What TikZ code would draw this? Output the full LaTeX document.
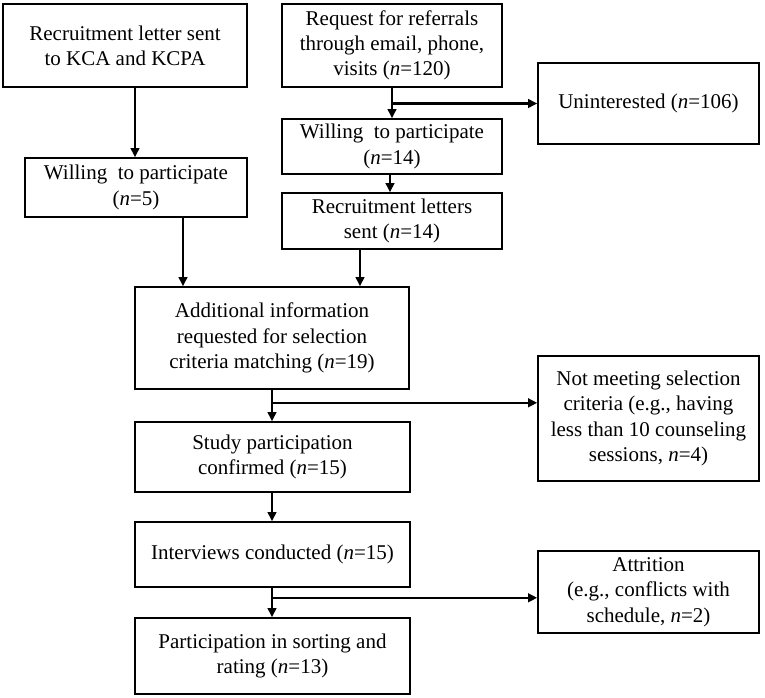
\documentclass[tikz,border=0pt]{standalone}
\usepackage{fontspec}
\setmainfont{Liberation Serif}
\usetikzlibrary{arrows.meta,calc}
\begin{document}
\begin{tikzpicture}[x=1pt,y=-1pt,
  box/.style={draw=black,line width=1.6pt,inner sep=0pt,align=center,
    font=\fontsize{21}{25.3}\selectfont},
  arr/.style={draw=black,line width=2.2pt,-{Triangle[length=9pt,width=8.5pt]}}]
\useasboundingbox[fill=white] (0,0) rectangle (765,698);
\node[box,minimum width=244pt,minimum height=83pt] (A) at (125,45.5) {Recruitment letter sent\\to KCA and KCPA};
\node[box,minimum width=222pt,minimum height=59pt] (W5) at (136,187.5) {Willing\ \ to participate\\(\textit{n}=5)};
\node[box,minimum width=220pt,minimum height=83pt] (Req) at (392,45.5) {Request for referrals\\through email, phone,\\visits (\textit{n}=120)};
\node[box,minimum width=221pt,minimum height=81pt] (Un) at (648.5,103.5) {Uninterested (\textit{n}=106)};
\node[box,minimum width=220pt,minimum height=55pt] (W14) at (392,146.5) {Willing\ \ to participate\\(\textit{n}=14)};
\node[box,minimum width=220pt,minimum height=56pt] (RL) at (392,221) {Recruitment letters\\sent (\textit{n}=14)};
\node[box,minimum width=274pt,minimum height=102pt] (Add) at (272,338) {Additional information\\requested for selection\\criteria matching (\textit{n}=19)};
\node[box,minimum width=221pt,minimum height=125pt] (NM) at (648.5,418.5) {Not meeting selection\\criteria (e.g., having\\less than 10 counseling\\sessions, \textit{n}=4)};
\node[box,minimum width=275pt,minimum height=70pt] (St) at (272.5,457) {Study participation\\confirmed (\textit{n}=15)};
\node[box,minimum width=275pt,minimum height=65pt] (Int) at (272.5,554.5) {Interviews conducted (\textit{n}=15)};
\node[box,minimum width=275pt,minimum height=76pt] (Part) at (272.5,656) {Participation in sorting and\\rating (\textit{n}=13)};
\node[box,minimum width=221pt,minimum height=82pt] (At) at (648.5,592) {Attrition\\(e.g., conflicts with\\schedule, \textit{n}=2)};
% connectors
\draw[arr] ([xshift=10pt]A.south) -- ([xshift=10pt]A.south |- W5.north);
\draw[arr] (Req.south) -- (W14.north);
\coordinate (b1) at (Req.south |- Un.west);
\draw[arr] (b1) -- (Un.west);
\draw[arr] ([xshift=-2pt]W14.south) -- ([xshift=-2pt]W14.south |- RL.north);
\draw[arr] ([xshift=47pt]W5.south) -- ([xshift=47pt]W5.south |- Add.north);
\draw[arr] ([xshift=-32pt]RL.south) -- ([xshift=-32pt]RL.south |- Add.north);
\draw[arr] (Add.south) -- (Add.south |- St.north);
\coordinate (b2) at ($(Add.south)+(0,13)$);
\draw[arr] (b2) -- (b2 -| NM.west);
\draw[arr] (Add.south |- St.south) -- (Add.south |- Int.north);
\draw[arr] (Add.south |- Int.south) -- (Add.south |- Part.north);
\coordinate (b3) at ($(Add.south |- Int.south)+(0,10)$);
\draw[arr] (b3) -- (b3 -| At.west);
\end{tikzpicture}
\end{document}
